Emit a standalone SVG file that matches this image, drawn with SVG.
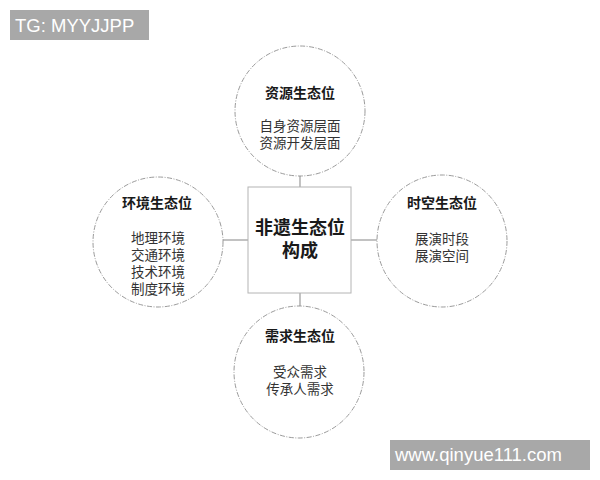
<svg xmlns="http://www.w3.org/2000/svg" width="600" height="480" viewBox="0 0 600 480">
<style>
.bg{fill:#ffffff}
.circ{fill:#ffffff;stroke:#8e8e8e;stroke-width:0.9;stroke-dasharray:5 1.5 1 1.5}
.box{fill:#ffffff;stroke:#b4b4b4;stroke-width:1}
.conn{stroke:#9a9a9a;stroke-width:1.2;fill:none}
.title{font-family:"Liberation Serif","Noto Sans CJK SC",serif;font-size:14px;font-weight:bold;fill:#1a1a1a;text-anchor:middle}
.body{font-family:"Liberation Serif","Noto Sans CJK SC",serif;font-size:13.5px;fill:#333333;text-anchor:middle}
.main{font-family:"Liberation Serif","Noto Sans CJK SC",serif;font-size:18px;font-weight:bold;fill:#1a1a1a;text-anchor:middle}
.wm{fill:#a8a8a8}
.wmt{font-family:"Liberation Sans",Arial,sans-serif;fill:#ffffff}
</style>
<rect class="bg" x="0" y="0" width="600" height="480"/>
<g id="connectors">
<line class="conn" x1="300" y1="176" x2="300" y2="187"/>
<line class="conn" x1="300" y1="293" x2="300" y2="307"/>
<line class="conn" x1="223" y1="240" x2="248" y2="240"/>
<line class="conn" x1="351" y1="240" x2="377" y2="240"/>
</g>
<g id="center">
<rect class="box" x="248" y="187" width="103" height="106"/>
<text class="main" x="300" y="234">非遗生态位</text>
<text class="main" x="300" y="257">构成</text>
</g>
<g id="resource">
<ellipse class="circ" cx="300" cy="111" rx="65" ry="65"/>
<text class="title" x="300" y="98">资源生态位</text>
<text class="body" x="300" y="131">自身资源层面</text>
<text class="body" x="300" y="148">资源开发层面</text>
</g>
<g id="environment">
<ellipse class="circ" cx="158" cy="242" rx="65" ry="65"/>
<text class="title" x="157" y="208">环境生态位</text>
<text class="body" x="158" y="243">地理环境</text>
<text class="body" x="158" y="260">交通环境</text>
<text class="body" x="158" y="277">技术环境</text>
<text class="body" x="158" y="294">制度环境</text>
</g>
<g id="spacetime">
<ellipse class="circ" cx="442" cy="241" rx="65" ry="66"/>
<text class="title" x="442" y="208">时空生态位</text>
<text class="body" x="442" y="244">展演时段</text>
<text class="body" x="442" y="261">展演空间</text>
</g>
<g id="demand">
<ellipse class="circ" cx="299" cy="372" rx="65" ry="66"/>
<text class="title" x="300" y="341">需求生态位</text>
<text class="body" x="300" y="377">受众需求</text>
<text class="body" x="300" y="394">传承人需求</text>
</g>
<g id="watermark-tg">
<rect class="wm" x="10" y="10" width="139" height="30"/>
<text class="wmt" x="15" y="32" font-size="18.5">TG: MYYJJPP</text>
</g>
<g id="watermark-url">
<rect class="wm" x="390" y="440" width="200" height="30"/>
<text class="wmt" x="395" y="461" font-size="18.5">www.qinyue111.com</text>
</g>
</svg>
